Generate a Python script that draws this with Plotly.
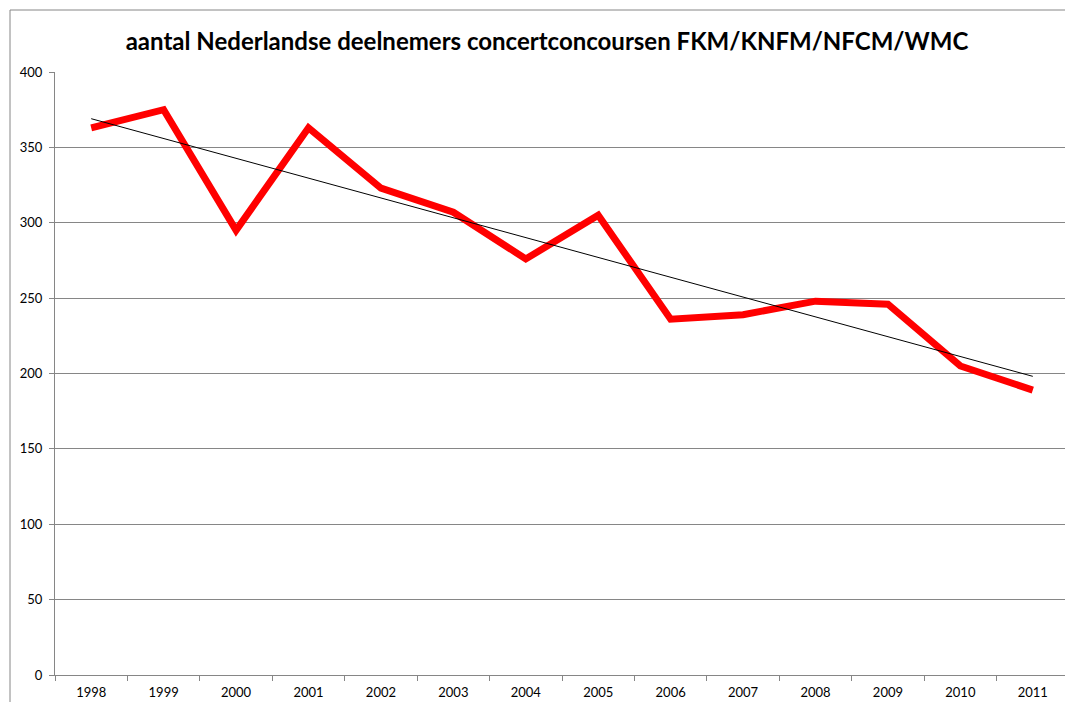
import numpy as np
import plotly.graph_objects as go

years = ["1998", "1999", "2000", "2001", "2002", "2003", "2004",
         "2005", "2006", "2007", "2008", "2009", "2010", "2011"]
deelnemers = [363, 375, 295, 363, 323, 307, 276, 305, 236, 239, 248, 246, 205, 189]
y_ticks = [0, 50, 100, 150, 200, 250, 300, 350, 400]
title_text = "aantal Nederlandse deelnemers concertconcoursen FKM/KNFM/NFCM/WMC"

idx = np.arange(len(years))
slope, intercept = np.polyfit(idx, deelnemers, 1)
trend = slope * idx + intercept

# page body has an 8px default margin, so the figure is offset by 8px
OFF = 8
W, H = 1065, 694
L, R, T, B = 55 - OFF, 4, 72 - OFF, 27
pw, ph = W - L - R, H - T - B

fig = go.Figure()
fig.add_trace(go.Scatter(x=years, y=deelnemers, mode="lines",
                         line=dict(color="#FF0000", width=7), showlegend=False))
fig.add_trace(go.Scatter(x=years, y=trend, mode="lines",
                         line=dict(color="#000000", width=1), showlegend=False))

fig.update_layout(
    width=W, height=H,
    margin=dict(l=L, r=R, t=T, b=B, autoexpand=False),
    paper_bgcolor="white", plot_bgcolor="white",
    font=dict(family="Lato, Liberation Sans, sans-serif", size=13, color="#000"),
    title=dict(text="<b>" + title_text + "</b>", x=(547 - OFF) / W, xanchor="center",
               y=1 - (42 - OFF) / H, yanchor="middle",
               font=dict(size=24, family="Lato, Liberation Sans, sans-serif", color="#000")),
    xaxis=dict(type="category", range=[-0.5, len(years) - 0.5], tickson="boundaries",
               ticks="outside", ticklen=5, automargin=False, ticklabelstandoff=5,
               tickcolor="#868686", showline=True, linecolor="#868686", linewidth=1,
               showgrid=False, zeroline=False, tickfont=dict(size=13)),
    yaxis=dict(range=[0, 400], tickvals=y_ticks, ticks="outside", ticklen=5,
               automargin=False, ticklabelstandoff=4,
               tickcolor="#868686", showline=True, linecolor="#868686", linewidth=1,
               showgrid=True, gridcolor="#868686", gridwidth=1, zeroline=False,
               tickfont=dict(size=13)),
    shapes=[dict(type="rect", xref="paper", yref="paper",
                 x0=(10 - OFF - L) / pw, x1=(W + 20 - L) / pw,
                 y0=-(B + 20) / ph, y1=1 + (T - (10 - OFF)) / ph,
                 line=dict(color="#868686", width=1), fillcolor="rgba(0,0,0,0)",
                 layer="below")],
)

fig.write_html("out.html")
